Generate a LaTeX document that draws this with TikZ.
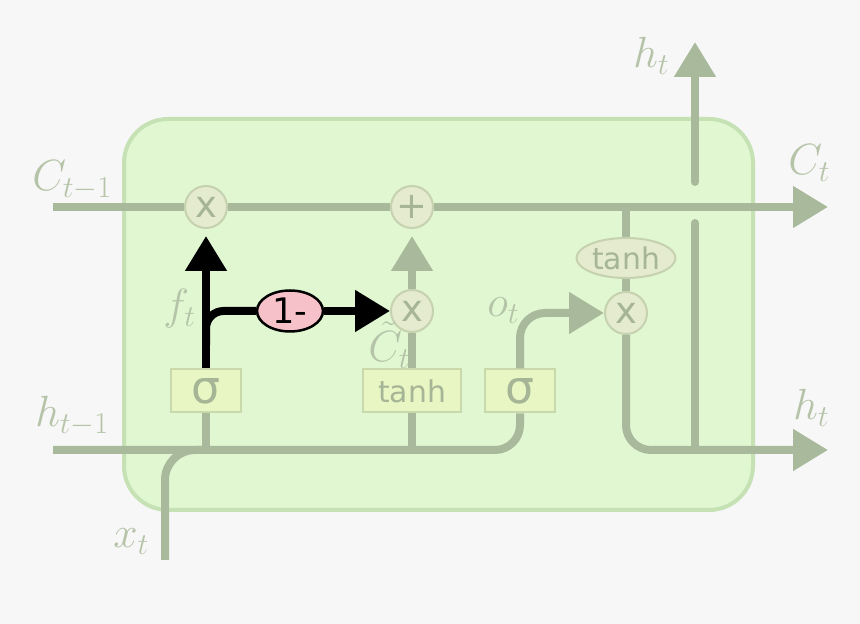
\documentclass[tikz,border=0pt]{standalone}
\usepackage{fontspec}
\newfontfamily\gatefont{DejaVu Sans}
\usepackage{tikz}
\usetikzlibrary{arrows.meta,shapes.geometric}
\definecolor{bgc}{HTML}{F7F7F7}
\definecolor{boxfill}{HTML}{E0F7D1}
\definecolor{boxdraw}{HTML}{C6E2B5}
\definecolor{linec}{HTML}{A9B99B}
\definecolor{gatefill}{HTML}{E7F6C3}
\definecolor{gatedraw}{HTML}{CAD9AC}
\definecolor{opfill}{HTML}{E4EBCE}
\definecolor{opdraw}{HTML}{C6D1AF}
\definecolor{gatetext}{HTML}{A5B595}
\definecolor{lblc}{HTML}{B5C4A8}
\definecolor{pinkc}{HTML}{F6C1C8}

\begin{document}
\begin{tikzpicture}[x=0.02cm, y=-0.02cm,
  >={Triangle[length=0.7cm,width=0.8cm]},
  line/.style={draw=linec, line width=0.16cm},
  fline/.style={draw=black, line width=0.16cm},
  gate/.style={draw=gatedraw, fill=gatefill, line width=0.04cm, minimum width=1.42cm,
    minimum height=0.86cm, inner sep=0pt, text=gatetext, font=\gatefont\fontsize{17}{17}\selectfont},
  op/.style={circle, draw=opdraw, fill=opfill, line width=0.04cm, minimum size=0.84cm,
    inner sep=0pt, text=gatetext, font=\gatefont\fontsize{21}{21}\selectfont},
  oval/.style={ellipse, draw=opdraw, fill=opfill, line width=0.04cm, minimum width=1.98cm,
    minimum height=0.8cm, inner sep=0pt, text=gatetext, font=\gatefont\fontsize{17}{17}\selectfont},
  coupled/.style={ellipse, draw=black, fill=pinkc, line width=0.05cm, minimum width=1.32cm,
    minimum height=0.82cm, inner sep=0pt, font=\gatefont\fontsize{20}{20}\selectfont},
  lbl/.style={text=lblc, anchor=base west, inner sep=0pt, font=\fontsize{25}{30}\selectfont}]
  \useasboundingbox (0,0) rectangle (860,624);
  \fill[bgc] (0,0) rectangle (860,624);
  \draw[draw=boxdraw, fill=boxfill, line width=0.08cm, rounded corners=0.88cm] (124,119) rectangle (753,510);

  \node[gate, font=\gatefont\fontsize{26}{26}\selectfont] (sigf) at (206,391) {σ};
  \node[gate, minimum width=1.98cm] (tanhi) at (412,391) {tanh};
  \node[gate, font=\gatefont\fontsize{26}{26}\selectfont] (sigo) at (520,391) {σ};
  \node[op] (mulf) at (206,207) {x};
  \node[op] (addc) at (412,207) {+};
  \node[op] (muli) at (412,311) {x};
  \node[op] (mulo) at (626,313) {x};
  \node[oval] (tanho) at (626,258) {tanh};
  \node[coupled] (oneminus) at (290,311) {1-};

  \coordinate (cin) at (53,207);
  \coordinate (cout) at (828,207);
  \coordinate (hin) at (53,450);
  \coordinate (hout) at (828,450);
  \coordinate (xin) at (165,560);
  \coordinate (split) at (206,345);
  \coordinate (hjoin) at (695,450);
  \coordinate (gaplo) at (695,223);
  \coordinate (gaphi) at (695,182);
  \coordinate (htop) at (695,42);

  % cell state
  \draw[line] (cin) -- (mulf);
  \draw[line] (mulf) -- (addc);
  \draw[line,->] (addc) -- (cout);
  % inputs
  \draw[line, rounded corners=0.5cm] (hin) -| (sigo);
  \draw[line, rounded corners=0.6cm] (xin) |- (sigf |- hin);
  \draw[line] (sigf |- hin) -- (sigf);
  \draw[line] (tanhi |- hin) -- (tanhi);
  % coupled forget / input
  \draw[fline,->,shorten >=0.14cm] (sigf) -- (mulf);
  \draw[fline, rounded corners=0.35cm] (split) |- (oneminus);
  \draw[fline,->] (oneminus) -- (muli);
  \draw[line] (tanhi) -- (muli);
  \draw[line,->,shorten >=0.14cm] (muli) -- (addc);
  % output
  \draw[line,->, rounded corners=0.5cm] (sigo) |- (mulo);
  \draw[line] (mulo |- cin) -- (tanho);
  \draw[line] (tanho) -- (mulo);
  \draw[line,->, rounded corners=0.5cm] (mulo) |- (hout);
  \draw[line, line cap=round] (hjoin) -- (gaplo);
  \draw[line,->, line cap=round] (gaphi) -- (htop);

  \node[lbl] (lcin) at (32,191) {$C_{t-1}$};
  \node[lbl] (lhin) at (35,427) {$h_{t-1}$};
  \node[lbl] (lxin) at (113,548) {$x_t$};
  \node[lbl] (lhtop) at (633,68) {$h_t$};
  \node[lbl] (lcout) at (788,175) {$C_t$};
  \node[lbl] (lhout) at (793,420) {$h_t$};
  \node[lbl] (lf) at (163,320) {$f_t$};
  \node[lbl] (lct) at (368,362) {$\tilde{C}_t$};
  \node[lbl] (lo) at (487,317) {$o_t$};
\end{tikzpicture}
\end{document}
